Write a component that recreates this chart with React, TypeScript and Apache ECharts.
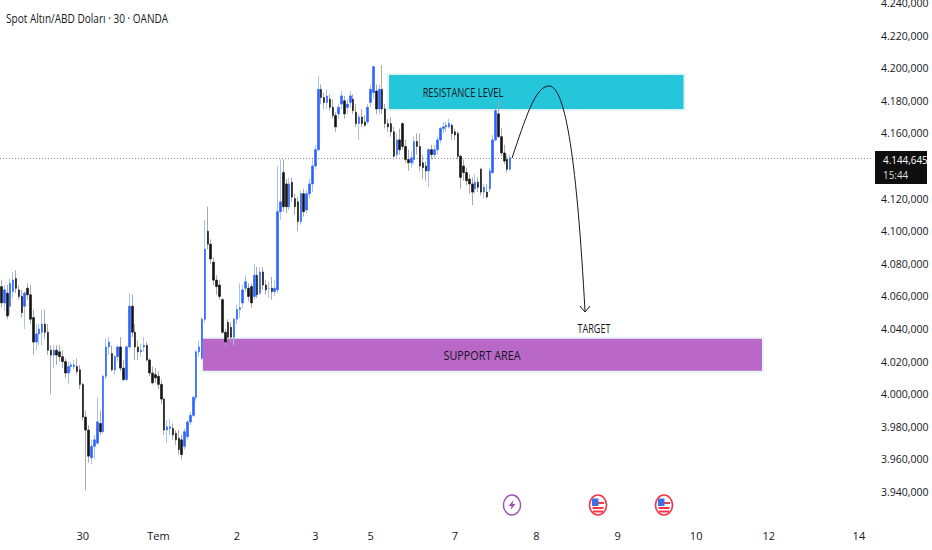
import React, { useEffect, useRef } from "react";
import * as echarts from "echarts";

const FONT = '"Open Sans", sans-serif';
const SLOTS = 300;
const dayLabels: [number, string][] = [[28, "30"], [54, "Tem"], [81, "2"], [108, "3"], [127, "5"], [156, "7"], [184, "8"], [212, "9"], [239, "10"], [264, "12"], [295, "14"]];
const yMin = 3940, yMax = 4240, yStep = 20;
const lastPrice = 4144.645;
const resistanceZone = { from: 133, to: 235, low: 4174.3, high: 4196.4 };
const supportZone = { from: 69, to: 261.5, low: 4013.8, high: 4034.7 };

// [open, close, low, high]
const candlesA = [
  [4066,4056,4053,4070],[4056,4064,4051,4067],[4062,4048,4046,4067],[4054,4068,4049,4071],[4063,4070,4059,4075],[4071,4065,4062,4076],
  [4064,4060,4058,4067],[4060,4050,4047,4064],[4054,4062,4040,4063],[4065,4061,4058,4068],[4061,4046,4043,4067],[4047,4032,4024,4052],
  [4032,4037,4027,4043],[4037,4040,4030,4043],[4038,4043,4030,4052],[4043,4038,4034,4052],[4038,4027,4024,4043],[4027,4024,4000,4030],
  [4024,4027,4016,4030],[4027,4024,4018,4030],[4026,4023,4020,4030],[4023,4020,4016,4027],[4020,4013,4010,4022],[4013,4017,4006,4020],
  [4017,4018,4014,4020],[4017,4018,4015,4021],[4017,4014,4012,4022],[4015,4006,4003,4018],[4006,3986,3984,4007],[3986,3978,3941,3990],
  [3978,3962,3958,3981],[3961,3968,3957,3972],[3968,3972,3960,3975],[3970,3983,3969,3998],[3982,3977,3975,3990],
  [3977,4011,3976,4012],[4011,4029,4009,4034],[4029,4032,4024,4035],[4025,4015,4014,4030],[4015,4023,4012,4024],[4023,4029,4020,4030],
  [4029,4016,4014,4035],[4016,4009,4008,4021],[4009,4029,4008,4030],[4029,4054,4028,4062],[4054,4038,4035,4061],
  [4038,4029,4021,4043],[4029,4026,4021,4033],[4026,4027,4023,4031],[4029,4030,4026,4035],[4030,4021,4020,4032],[4021,4013,4011,4022],[4013,4007,4006,4017],
  [4012,4010,4007,4016],[4011,4006,4003,4014],[4006,3997,3994,4009],[3997,3978,3975,3998],[3978,3980,3970,3984],[3979,3980,3975,3985],[3979,3975,3972,3982],
  [3976,3972,3969,3978],[3973,3966,3963,3978],[3972,3963,3960,3975],[3968,3977,3966,3979],[3974,3983,3972,3984],[3983,3987,3981,3989],
  [3987,3998,3986,3999],[3998,4026,3996,4027],[4026,4029,4023,4033],[4022,4046,4021,4047],[4046,4089,4044,4107],
];
const candlesB = [
  [4100,4092,4089,4115],[4092,4083,4080,4095],[4081,4070,4067,4084],[4070,4066,4061,4073],[4067,4060,4058,4070],[4058,4038,4037,4059],
  [4038,4032,4029,4040],[4044,4035,4033,4046],[4041,4035,4032,4044],[4035,4046,4030,4047],[4046,4052,4043,4055],[4052,4053,4047,4068],
  [4056,4064,4053,4067],[4065,4069,4063,4073],[4065,4060,4057,4068],[4066,4056,4053,4068],[4060,4073,4058,4080],[4073,4061,4059,4078],
  [4062,4075,4061,4078],[4075,4067,4064,4078],[4067,4064,4061,4070],[4065,4065,4059,4069],[4065,4063,4058,4072],[4063,4065,4060,4070],[4064,4112,4062,4140],
  [4112,4118,4107,4144],[4136,4115,4112,4144],[4129,4115,4111,4132],[4115,4129,4113,4133],[4130,4121,4118,4133],[4120,4115,4110,4123],
  [4118,4106,4100,4121],[4106,4123,4104,4125],[4123,4112,4109,4126],[4113,4123,4111,4125],[4123,4129,4120,4132],
  [4129,4140,4124,4144],[4140,4150,4138,4153],[4150,4187,4149,4195],
];
const candlesC = [
  [4187,4182,4178,4190],[4182,4179,4175,4185],[4179,4183,4175,4187],[4181,4176,4174,4184],[4176,4171,4169,4181],[4171,4164,4161,4173],
  [4172,4176,4169,4178],[4178,4183,4175,4186],[4180,4172,4169,4183],[4176,4178,4172,4181],[4179,4183,4176,4186],[4181,4174,4172,4184],
  [4173,4166,4164,4178],[4166,4170,4156,4172],[4170,4166,4164,4175],[4167,4165,4164,4171],[4167,4176,4166,4178],[4179,4187,4176,4190],
  [4185,4201,4181,4201],
];
const candlesD = [
  [4186,4175,4172,4190],[4175,4187,4172,4190],[4187,4175,4172,4202],[4175,4166,4163,4178],[4166,4164,4161,4169],[4166,4161,4158,4170],
  [4161,4146,4144,4164],[4147,4156,4145,4160],[4156,4150,4147,4163],[4166,4152,4150,4167],[4152,4144,4142,4156],[4144,4142,4137,4150],
  [4142,4145,4139,4149],[4144,4155,4141,4158],[4155,4152,4147,4160],[4152,4140,4137,4160],[4142,4139,4132,4147],[4140,4137,4131,4143],
  [4137,4150,4127,4151],[4150,4147,4144,4153],[4147,4150,4145,4153],[4150,4156,4147,4158],[4156,4163,4154,4164],[4163,4164,4160,4167],
  [4164,4165,4161,4167],[4164,4166,4163,4169],[4165,4160,4156,4166],[4161,4159,4156,4163],[4160,4146,4144,4161],[4146,4133,4126,4147],
  [4140,4136,4131,4144],[4136,4131,4128,4139],[4132,4129,4123,4135],[4129,4124,4116,4133],[4126,4130,4123,4135],[4130,4127,4124,4133],
  [4138,4124,4122,4139],[4124,4127,4120,4129],[4124,4121,4120,4129],[4126,4137,4124,4139],[4136,4156,4135,4159],[4156,4174,4155,4175],
  [4172,4158,4157,4180],[4158,4148,4146,4163],[4148,4143,4141,4153],[4144,4138,4136,4147],[4138,4145,4137,4147],
];
const candles = [...candlesA, ...candlesB, ...candlesC, ...candlesD];

const flag = (cx: number, cy: number) => ({
  type: "group", x: cx, y: cy, silent: true,
  children: [
    { type: "ellipse", shape: { cx: 0, cy: 0, rx: 8.5, ry: 10 }, style: { fill: "#fff", stroke: "#f23645", lineWidth: 1.6 } },
    { type: "rect", shape: { x: -5.5, y: 2, width: 11, height: 2 }, style: { fill: "#f23645" } },
    { type: "rect", shape: { x: -5, y: 5.5, width: 10, height: 2 }, style: { fill: "#f23645" } },
    { type: "rect", shape: { x: 0, y: -3, width: 6, height: 2 }, style: { fill: "#f23645" } },
    { type: "rect", shape: { x: -6, y: -6.5, width: 6.5, height: 7.5 }, style: { fill: "#3d6fe0" } },
  ],
});

export default function App() {
  const ref = useRef<HTMLDivElement>(null);
  useEffect(() => {
    const chart = echarts.init(ref.current!, undefined, { renderer: "svg" });
    const categories = Array.from({ length: SLOTS }, (_, i) => {
      const f = dayLabels.find((d) => d[0] === i);
      return f ? f[1] : "";
    });
    const labelStyle = { color: "#131722", fontFamily: FONT };
    const txt = (x: number, y: number, text: string, scaleX: number, fontSize = 12, fill = "#131722", align = "center", fontWeight = "normal") => ({
      type: "text", x, y, scaleX, silent: true, z: 20,
      style: { text, fontFamily: FONT, fontSize, fontWeight, fill, align, verticalAlign: "middle" },
    });
    const curve = { stroke: "#131722", lineWidth: 1, fill: "none" };
    chart.setOption({
      animation: false,
      backgroundColor: "#ffffff",
      grid: { left: 0, right: 60, top: 3, bottom: 58, containLabel: false, outerBoundsMode: "none" },
      xAxis: {
        type: "category", data: categories, boundaryGap: true,
        axisLine: { show: false }, axisTick: { show: false }, splitLine: { show: false },
        axisLabel: { ...labelStyle, fontSize: 11, margin: 38, interval: 0, hideOverlap: false },
      },
      yAxis: {
        type: "value", position: "right", min: yMin, max: yMax, interval: yStep,
        axisLine: { show: false }, axisTick: { show: false }, splitLine: { show: false },
        axisLabel: {
          ...labelStyle, fontSize: 10.5, margin: 9, align: "left", showMinLabel: true, showMaxLabel: true,
          formatter: (v: number) => (v === 4140 ? "" : `${Math.floor(v / 1000)}.${String(v % 1000).padStart(3, "0")},000`),
        },
      },
      series: [
        {
          type: "line", data: [], z: 1, silent: true,
          markArea: {
            silent: true,
            data: [
              [{ xAxis: resistanceZone.from, yAxis: resistanceZone.high, itemStyle: { color: "#26c6da", borderColor: "#dff5f8", borderWidth: 2 } }, { xAxis: resistanceZone.to, yAxis: resistanceZone.low }],
              [{ xAxis: supportZone.from, yAxis: supportZone.high, itemStyle: { color: "#ba68c8", borderColor: "#e8f6f8", borderWidth: 2 } }, { xAxis: supportZone.to, yAxis: supportZone.low }],
            ],
          },
          markLine: {
            silent: true, symbol: "none", label: { show: false },
            lineStyle: { color: "#8a8d96", type: [1, 2], width: 1 },
            data: [{ yAxis: lastPrice }],
          },
        },
        {
          type: "candlestick", z: 5, barWidth: 1, silent: true,
          itemStyle: { color: "#a9c1fa", color0: "#a9a9a9", borderColor: "#a9c1fa", borderColor0: "#a9a9a9", borderWidth: 1 },
          data: candles,
        },
        {
          type: "candlestick", z: 6, barWidth: 2, silent: true,
          itemStyle: { color: "#2962ff", color0: "#131313", borderColor: "#2962ff", borderColor0: "#131313", borderWidth: 0.6 },
          data: candles.map(([o, c]) => [o, c, Math.min(o, c), Math.max(o, c)]),
        },
      ],
      graphic: [
        txt(6, 18, "Spot Altın/ABD Doları · 30 · OANDA", 0.805, 12.5, "#131722", "left"),
        txt(463, 92, "RESISTANCE LEVEL", 0.69, 13.5),
        txt(482, 355, "SUPPORT AREA", 0.8, 13.5),
        txt(594, 328, "TARGET", 0.7, 13),
        { type: "bezierCurve", silent: true, z: 10, shape: { x1: 512, y1: 158, cpx1: 525, cpy1: 120, cpx2: 535, cpy2: 86, x2: 549, y2: 86 }, style: curve },
        { type: "bezierCurve", silent: true, z: 10, shape: { x1: 549, y1: 86, cpx1: 566, cpy1: 86, cpx2: 577, cpy2: 165, x2: 585, y2: 311 }, style: curve },
        { type: "polyline", silent: true, z: 10, shape: { points: [[580, 306], [585, 312], [590, 306]] }, style: curve },
        { type: "rect", silent: true, z: 15, shape: { x: 875, y: 151, width: 52, height: 33 }, style: { fill: "#0e0e0e" } },
        txt(883, 159.5, "4.144,645", 0.86, 11.5, "#ffffff", "left"),
        txt(883, 175, "15:44", 0.86, 11.5, "#dddddd", "left"),
        {
          type: "group", x: 512, y: 505, silent: true,
          children: [
            { type: "ellipse", shape: { cx: 0, cy: 0, rx: 8.5, ry: 10 }, style: { fill: "#fff", stroke: "#9c4fb8", lineWidth: 1.4 } },
            { type: "polygon", shape: { points: [[1.5, -5], [-3.5, 1], [-0.5, 1], [-1.5, 5], [3.5, -1], [0.5, -1]] }, style: { fill: "#9c4fb8" } },
          ],
        },
        flag(598, 505),
        flag(664, 505),
      ],
    });
    return () => chart.dispose();
  }, []);
  return <div ref={ref} style={{ position: "absolute", left: 0, top: 0, width: 932, height: 550 }} />;
}
